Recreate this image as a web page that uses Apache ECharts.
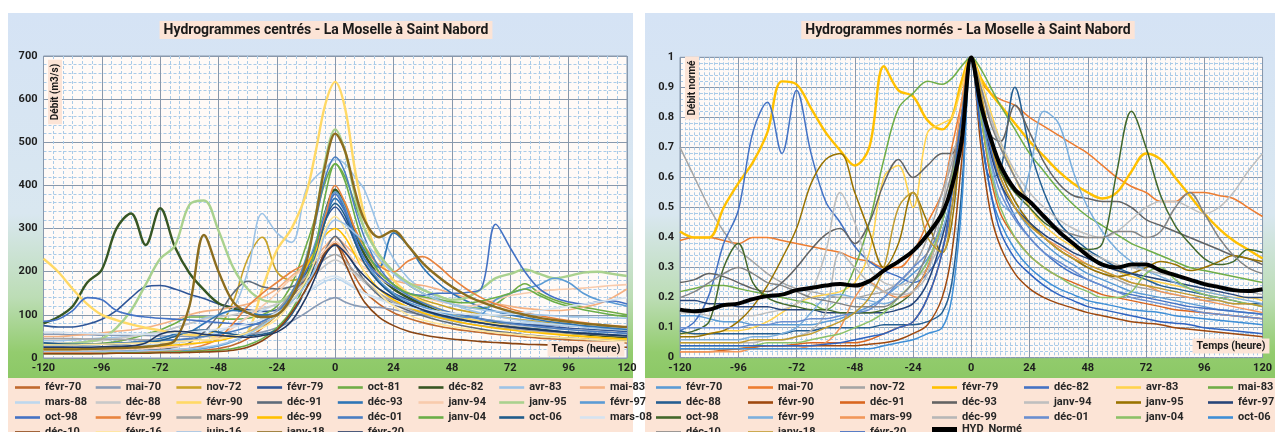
<!DOCTYPE html>
<html><head><meta charset="utf-8">
<script src="https://cdn.jsdelivr.net/npm/echarts@6/dist/echarts.min.js"></script>
<style>html,body{margin:0;padding:0;background:#fff}#c{width:1275px;height:432px}</style>
</head><body><div id="c"></div>
<script>
// ---------- DATA ----------
const hours = [-120,-114,-108,-102,-96,-90,-84,-78,-72,-66,-60,-54,-48,-42,-36,-30,-24,-18,-12,-8,-4,0,4,8,12,18,24,30,36,42,48,54,60,66,72,78,84,90,96,102,108,114,120];

const leftNames = ['févr-70','mai-70','nov-72','févr-79','oct-81','déc-82','avr-83','mai-83','mars-88','déc-88','févr-90','déc-91','déc-93','janv-94','janv-95','févr-97','oct-98','févr-99','mars-99','déc-99','déc-01','janv-04','oct-06','mars-08','déc-10','févr-16','juin-16','janv-18','févr-20'];
const leftColors = ['#C0692E','#8A9BB5','#C9A227','#2F5597','#70AD47','#375623','#9DC3E6','#F4B183','#BDD7EE','#C9C9C9','#FFD966','#5E6B7A','#2E75B6','#F8CBAD','#A9D18E','#5B9BD5','#4472C4','#E8843F','#A5A5A5','#FFC000','#4A7EC2','#6AAE48','#1F5C8B','#D5E3F0','#8B4513','#FFE699','#9DC3E6','#8C6D1F','#203864'];

const L01 = [14,14,14,14,14,14,14,15,15,15,16,18,22,30,45,70,100,140,185, 220,250,265,235,190,155, 125,105,92,82,74,68,63,59,55,52,49,46,44,42,40,38,36,35];
const L02 = [55,55,54,54,53,53,52,52,51,51,50,50,50,52,55,60,70,85,105, 120,133,140,130,122,118, 117,112,106,100,95,90,86,84,82,80,78,77,76,75,74,73,72,70];
const L03 = [20,20,20,21,22,23,25,28,30,35,40,50,70,130,230,280,200,180,195, 240,320,385,360,300,250, 200,170,150,135,125,115,108,102,97,92,88,84,80,77,74,71,68,65];
const L04 = [75,72,72,78,90,110,140,165,168,160,148,138,125,118,112,108,112,140,200, 260,320,350,320,270,220, 175,150,135,122,112,104,97,91,86,82,78,75,72,69,67,65,63,61];
const L05 = [30,30,31,32,34,38,45,55,65,80,95,95,92,90,92,100,120,170,260, 330,410,450,420,360,300, 240,200,170,150,135,125,118,115,125,150,172,150,135,125,118,112,106,100];
const L06 = [80,95,120,175,205,300,335,262,347,258,197,158,127,115,105,95,100,150,200, 260,340,390,350,290,240, 190,160,140,125,112,100,92,85,80,75,70,66,62,58,55,52,50,48];
const L07 = [40,40,42,44,46,48,50,55,60,70,80,92,100,115,200,335,290,268,390, 420,440,460,450,420,390, 300,230,185,160,140,125,113,104,97,91,86,82,78,75,72,69,67,65];
const L08 = [50,50,52,55,58,62,65,70,78,88,100,108,112,118,125,140,160,190,215, 235,260,280,262,240,220, 195,180,172,168,160,150,140,132,126,120,115,112,110,112,118,125,140,160];
const L09 = [25,25,25,26,26,27,28,30,32,35,40,50,60,75,95,110,125,140,150, 165,178,185,175,162,150, 138,128,118,110,104,98,93,89,86,84,82,80,78,76,74,72,70,68];
const L10 = [35,35,36,38,40,45,50,55,60,70,80,90,95,100,108,115,125,150,175, 195,215,227,215,195,175, 150,132,118,108,100,93,88,83,79,76,73,70,68,66,64,62,60,58];
const L11 = [230,200,160,125,100,88,78,70,64,58,54,52,50,50,60,160,250,300,380, 480,590,640,580,440,330, 230,180,150,130,115,102,92,84,77,71,66,61,57,53,50,47,44,42];
const L12 = [15,15,15,15,16,16,17,18,20,25,35,60,100,150,178,165,160,165,180, 200,250,282,255,215,180, 145,125,110,98,88,80,73,67,62,58,54,51,48,46,44,42,40,38];
const L13 = [30,30,30,31,32,34,36,40,45,55,60,80,100,110,105,100,105,130,180, 240,320,370,340,290,250, 210,290,260,210,175,150,132,118,108,100,94,88,83,79,75,72,69,66];
const L14 = [18,18,18,19,19,20,21,22,24,26,30,38,50,70,95,120,150,185,210, 225,250,270,250,225,210, 185,165,150,140,132,125,120,125,135,145,150,155,158,160,162,165,168,170];
const L15 = [30,32,34,38,45,70,110,170,230,260,355,365,295,210,160,135,130,150,230, 330,460,530,480,380,300, 240,200,175,158,145,135,140,160,185,195,205,195,185,190,198,200,195,190];
const L16 = [12,12,12,12,12,13,13,14,15,16,18,22,28,38,55,80,110,150,210, 270,340,385,350,280,230, 180,150,130,118,108,100,94,100,135,150,160,170,185,175,150,135,128,120];
const L17 = [85,90,110,140,135,110,100,95,92,90,88,85,82,80,78,80,100,140,200, 260,330,380,340,280,230, 190,165,150,145,150,150,152,160,310,255,200,160,140,130,125,130,132,125];
const L18 = [12,12,12,12,12,13,13,14,15,18,22,30,45,80,120,150,175,200,220, 250,330,400,360,300,260, 215,200,225,235,215,185,160,140,125,114,105,98,92,87,82,78,75,72];
const L19 = [45,45,45,44,44,43,43,42,42,42,42,42,45,50,60,80,110,150,190, 210,230,240,225,200,180, 150,130,115,103,94,86,80,75,71,68,65,62,60,58,56,54,52,50];
const L20 = [20,20,20,21,22,23,24,26,28,30,33,36,40,48,58,75,100,150,210, 250,285,300,280,240,200, 160,135,118,105,95,87,80,74,69,65,61,58,55,52,50,48,46,44];
const L21 = [28,28,29,30,32,34,36,38,40,42,45,50,55,62,72,85,105,150,230, 320,420,466,430,350,280, 210,170,145,128,115,105,97,90,85,80,76,72,69,66,63,61,59,57];
const L22 = [10,10,10,10,11,11,12,12,13,14,15,16,18,22,30,45,70,110,180, 260,380,450,410,330,260, 200,170,150,142,136,130,128,132,140,150,160,145,130,120,112,106,100,96];
const L23 = [35,33,32,32,32,33,34,36,40,50,62,65,60,55,52,55,65,100,160, 230,320,358,330,270,220, 175,145,125,110,100,92,86,81,76,72,69,66,63,60,58,56,54,52];
const L24 = [60,60,58,57,56,55,55,55,56,58,60,63,67,72,80,90,105,125,150, 170,185,190,180,165,150, 135,125,118,112,108,104,102,100,100,102,105,110,115,120,125,130,135,140];
const L25 = [10,10,10,10,10,11,11,11,12,12,13,14,15,18,25,40,65,105,160, 200,245,262,220,170,130, 95,75,62,54,48,44,41,38,36,34,32,31,30,29,28,27,26,25];
const L26 = [30,30,30,31,32,33,34,35,36,38,40,42,45,50,58,70,90,130,180, 230,300,328,300,250,200, 150,120,100,88,80,73,68,63,59,56,53,50,48,46,44,42,40,38];
const L27 = [15,15,15,15,15,16,16,17,18,20,22,25,30,40,55,75,100,130,170, 210,290,320,310,290,270, 230,195,170,150,135,125,118,112,108,105,102,100,98,96,95,94,93,92];
const L28 = [20,20,20,21,22,23,24,26,30,40,120,285,200,130,105,95,100,140,220, 330,450,520,480,390,320, 280,295,260,220,190,165,145,130,118,108,100,93,88,84,80,77,74,72];
const L29 = [25,25,25,25,26,27,28,35,55,62,60,55,52,50,48,52,60,85,140, 190,240,262,245,215,190, 160,140,125,112,102,94,87,81,76,72,68,65,62,59,57,55,53,51];
const leftData = [L01,L02,L03,L04,L05,L06,L07,L08,L09,L10,L11,L12,L13,L14,L15,L16,L17,L18,L19,L20,L21,L22,L23,L24,L25,L26,L27,L28,L29];
const leftThick = ['déc-82','févr-90','janv-18','janv-95'];

const rightNames = ['févr-70','mai-70','nov-72','févr-79','déc-82','avr-83','mai-83','déc-88','févr-90','déc-91','déc-93','janv-94','janv-95','févr-97','oct-98','févr-99','mars-99','déc-99','déc-01','janv-04','oct-06','déc-10','janv-18','févr-20','HYD_Normé'];
const rightColors = ['#5B9BD5','#ED7D31','#A5A5A5','#FFC000','#4472C4','#FFD34D','#70AD47','#255E91','#9E480E','#D9661F','#636363','#BFBFBF','#997300','#264478','#43682B','#7CAFDD','#F1975A','#B7B7B7','#698ED0','#8CC168','#3E8ED6','#848484','#BF9B30','#2F63C0','#000000'];

const R01 = [0.14,0.14,0.13,0.12,0.12,0.11,0.11,0.11,0.11,0.11,0.12,0.13,0.15,0.17,0.2,0.24,0.28,0.33,0.42, 0.55,0.75,1,0.85,0.7,0.6, 0.5,0.43,0.38,0.34,0.31,0.28,0.26,0.24,0.22,0.21,0.2,0.19,0.18,0.17,0.16,0.155,0.15,0.145];
const R02 = [0.39,0.40,0.40,0.39,0.38,0.40,0.40,0.39,0.38,0.37,0.36,0.35,0.33,0.32,0.30,0.30,0.35,0.45,0.55, 0.7,0.85,1,0.92,0.88,0.86, 0.84,0.80,0.77,0.74,0.71,0.68,0.64,0.60,0.57,0.55,0.52,0.52,0.55,0.55,0.54,0.53,0.50,0.47];
const R03 = [0.70,0.60,0.50,0.42,0.36,0.32,0.28,0.25,0.23,0.22,0.21,0.20,0.20,0.21,0.22,0.25,0.30,0.40,0.55, 0.65,0.8,1,0.85,0.72,0.62, 0.52,0.45,0.40,0.36,0.33,0.30,0.28,0.26,0.24,0.23,0.22,0.21,0.2,0.19,0.19,0.18,0.18,0.17];
const R04 = [0.42,0.40,0.40,0.50,0.58,0.65,0.75,0.92,0.91,0.83,0.75,0.69,0.64,0.70,0.97,0.89,0.87,0.79,0.76, 0.80,0.92,1,0.93,0.88,0.84, 0.78,0.72,0.67,0.62,0.58,0.55,0.53,0.55,0.62,0.68,0.66,0.60,0.54,0.48,0.43,0.39,0.36,0.33];
const R05 = [0.09,0.12,0.21,0.38,0.49,0.75,0.85,0.68,0.89,0.68,0.52,0.45,0.37,0.32,0.29,0.27,0.25,0.28,0.36, 0.5,0.72,1,0.85,0.7,0.58, 0.47,0.40,0.35,0.31,0.28,0.26,0.24,0.22,0.21,0.20,0.19,0.18,0.17,0.165,0.16,0.155,0.15,0.145];
const R06 = [0.08,0.08,0.08,0.09,0.09,0.1,0.12,0.15,0.18,0.2,0.21,0.22,0.25,0.35,0.6,0.64,0.5,0.75,0.78, 0.8,0.9,1,0.92,0.82,0.72, 0.6,0.5,0.44,0.4,0.37,0.34,0.31,0.29,0.27,0.26,0.25,0.24,0.23,0.22,0.21,0.2,0.2,0.19];
const R07 = [0.22,0.23,0.24,0.24,0.23,0.22,0.21,0.2,0.19,0.18,0.16,0.2,0.3,0.45,0.66,0.83,0.88,0.92,0.91, 0.93,0.97,1,0.96,0.9,0.84, 0.76,0.68,0.62,0.56,0.51,0.47,0.44,0.41,0.38,0.36,0.34,0.32,0.3,0.29,0.28,0.27,0.26,0.25];
const R08 = [0.09,0.08,0.08,0.08,0.08,0.08,0.08,0.08,0.09,0.09,0.1,0.1,0.1,0.1,0.11,0.11,0.11,0.12,0.15, 0.25,0.55,1,0.75,0.6,0.62, 0.9,0.7,0.55,0.45,0.4,0.36,0.33,0.3,0.28,0.26,0.24,0.23,0.22,0.21,0.2,0.19,0.18,0.18];
const R09 = [0.03,0.03,0.03,0.03,0.03,0.035,0.04,0.04,0.04,0.04,0.04,0.04,0.04,0.045,0.05,0.06,0.08,0.11,0.2, 0.35,0.65,1,0.7,0.48,0.37, 0.28,0.23,0.2,0.18,0.165,0.15,0.14,0.13,0.12,0.115,0.11,0.1,0.095,0.09,0.085,0.08,0.075,0.07];
const R10 = [0.02,0.02,0.02,0.025,0.03,0.035,0.04,0.04,0.045,0.05,0.05,0.05,0.05,0.06,0.08,0.1,0.12,0.2,0.35, 0.55,0.8,1,0.8,0.6,0.48, 0.4,0.34,0.3,0.27,0.25,0.23,0.21,0.2,0.19,0.18,0.17,0.16,0.155,0.15,0.145,0.14,0.135,0.13];
const R11 = [0.25,0.26,0.28,0.27,0.25,0.23,0.22,0.25,0.30,0.36,0.41,0.43,0.38,0.45,0.58,0.66,0.6,0.64,0.68, 0.68,0.8,1,0.85,0.74,0.72, 0.84,0.75,0.65,0.58,0.54,0.53,0.52,0.52,0.50,0.46,0.44,0.42,0.4,0.38,0.36,0.34,0.33,0.31];
const R12 = [0.15,0.15,0.14,0.14,0.14,0.14,0.15,0.16,0.18,0.22,0.35,0.55,0.45,0.3,0.25,0.24,0.26,0.3,0.4, 0.55,0.8,1,0.9,0.8,0.72, 0.62,0.55,0.50,0.46,0.43,0.41,0.40,0.42,0.46,0.50,0.52,0.52,0.50,0.48,0.50,0.55,0.62,0.68];
const R13 = [0.07,0.07,0.08,0.09,0.12,0.17,0.24,0.33,0.43,0.58,0.66,0.68,0.55,0.42,0.3,0.38,0.55,0.45,0.35, 0.45,0.75,1,0.85,0.72,0.62, 0.52,0.45,0.4,0.36,0.33,0.3,0.28,0.27,0.28,0.3,0.32,0.31,0.29,0.3,0.32,0.34,0.33,0.32];
const R14 = [0.19,0.19,0.18,0.18,0.17,0.17,0.17,0.16,0.16,0.16,0.15,0.15,0.15,0.15,0.15,0.16,0.18,0.25,0.4, 0.55,0.78,1,0.82,0.68,0.58, 0.5,0.45,0.41,0.38,0.35,0.33,0.31,0.29,0.28,0.27,0.26,0.25,0.24,0.23,0.22,0.21,0.2,0.2];
const R15 = [0.08,0.09,0.12,0.3,0.38,0.25,0.2,0.18,0.17,0.16,0.16,0.15,0.15,0.15,0.16,0.18,0.22,0.3,0.45, 0.6,0.8,1,0.85,0.72,0.62, 0.55,0.5,0.45,0.42,0.38,0.36,0.38,0.62,0.82,0.7,0.54,0.44,0.38,0.33,0.31,0.32,0.36,0.35];
const R16 = [0.06,0.06,0.06,0.06,0.06,0.07,0.07,0.08,0.1,0.15,0.2,0.21,0.2,0.19,0.18,0.2,0.25,0.32,0.42, 0.55,0.75,1,0.82,0.65,0.52, 0.48,0.62,0.82,0.78,0.62,0.5,0.42,0.36,0.32,0.29,0.27,0.25,0.23,0.22,0.21,0.2,0.19,0.18];
const R17 = [0.02,0.02,0.02,0.02,0.02,0.03,0.03,0.03,0.03,0.04,0.05,0.1,0.2,0.25,0.22,0.2,0.22,0.3,0.45, 0.6,0.85,1,0.88,0.72,0.6, 0.5,0.44,0.4,0.37,0.34,0.31,0.29,0.27,0.25,0.24,0.22,0.21,0.2,0.19,0.18,0.17,0.16,0.15];
const R18 = [0.05,0.05,0.05,0.05,0.05,0.05,0.06,0.06,0.07,0.09,0.15,0.35,0.3,0.25,0.22,0.21,0.22,0.28,0.5, 0.68,0.75,1,0.9,0.8,0.7, 0.6,0.52,0.46,0.42,0.38,0.35,0.33,0.31,0.3,0.29,0.28,0.27,0.26,0.25,0.24,0.23,0.22,0.21];
const R19 = [0.1,0.1,0.1,0.1,0.1,0.11,0.11,0.12,0.12,0.13,0.13,0.14,0.15,0.16,0.2,0.25,0.3,0.35,0.45, 0.6,0.8,1,0.82,0.66,0.55, 0.46,0.4,0.35,0.32,0.29,0.26,0.24,0.22,0.2,0.19,0.18,0.17,0.16,0.15,0.145,0.14,0.135,0.13];
const R20 = [0.04,0.04,0.04,0.04,0.04,0.04,0.05,0.05,0.05,0.06,0.07,0.08,0.1,0.12,0.15,0.2,0.25,0.32,0.45, 0.6,0.8,1,0.8,0.62,0.5, 0.4,0.34,0.3,0.27,0.24,0.22,0.2,0.2,0.22,0.28,0.3,0.26,0.23,0.21,0.2,0.19,0.18,0.17];
const R21 = [0.03,0.03,0.03,0.03,0.03,0.03,0.03,0.03,0.03,0.03,0.03,0.03,0.03,0.03,0.04,0.05,0.06,0.08,0.1, 0.2,0.5,1,0.75,0.55,0.45, 0.36,0.3,0.26,0.23,0.21,0.19,0.18,0.17,0.16,0.155,0.15,0.14,0.135,0.13,0.125,0.12,0.115,0.11];
const R22 = [0.2,0.22,0.25,0.28,0.3,0.28,0.25,0.24,0.22,0.2,0.19,0.18,0.17,0.17,0.17,0.2,0.25,0.35,0.5, 0.62,0.8,1,0.9,0.78,0.7, 0.6,0.52,0.47,0.43,0.41,0.4,0.4,0.42,0.42,0.4,0.42,0.5,0.55,0.48,0.4,0.34,0.3,0.28];
const R23 = [0.05,0.05,0.05,0.05,0.05,0.06,0.06,0.06,0.07,0.08,0.1,0.12,0.15,0.2,0.3,0.5,0.55,0.4,0.35, 0.5,0.8,1,0.88,0.72,0.6, 0.5,0.44,0.4,0.36,0.33,0.31,0.29,0.27,0.25,0.24,0.23,0.22,0.21,0.2,0.19,0.18,0.18,0.17];
const R24 = [0.04,0.04,0.04,0.04,0.04,0.04,0.04,0.04,0.04,0.04,0.045,0.05,0.06,0.07,0.08,0.1,0.12,0.2,0.35, 0.55,0.8,1,0.75,0.55,0.42, 0.33,0.28,0.24,0.21,0.19,0.17,0.16,0.15,0.14,0.13,0.12,0.115,0.11,0.1,0.095,0.09,0.085,0.08];
const HYD = [0.16,0.155,0.16,0.175,0.18,0.195,0.205,0.21,0.225,0.232,0.24,0.245,0.24,0.255,0.29,0.32,0.355,0.41,0.48, 0.57,0.72,1,0.84,0.73,0.64, 0.56,0.52,0.47,0.42,0.38,0.34,0.31,0.30,0.31,0.31,0.29,0.275,0.26,0.245,0.235,0.225,0.222,0.228];
const rightData = [R01,R02,R03,R04,R05,R06,R07,R08,R09,R10,R11,R12,R13,R14,R15,R16,R17,R18,R19,R20,R21,R22,R23,R24,HYD];

// ---------- CHART ----------
const FONT = 'Roboto, "Liberation Sans", sans-serif';
const chart = echarts.init(document.getElementById('c'), null, {renderer: 'canvas'});
// internal keys keep the two panels' series (same event names) distinct
const leftKeys = leftNames.map(n => 'C|' + n);
const rightKeys = rightNames.map(n => 'N|' + n);
const HYD_KEY = 'N|HYD_Normé';

function panelBg(x, w) {
  return [
    {type: 'rect', z: -10, silent: true, shape: {x: x, y: 13, width: w, height: 365},
     style: {fill: new echarts.graphic.LinearGradient(0, 0, 0, 1, [
       {offset: 0, color: '#D5E3F5'}, {offset: 0.55, color: '#D9E7F0'},
       {offset: 0.78, color: '#BCDDB5'}, {offset: 0.93, color: '#93CC6E'}, {offset: 1, color: '#8CC866'}])}},
    {type: 'rect', z: -10, silent: true, shape: {x: x, y: 378, width: w, height: 54}, style: {fill: '#FCE4D6'}}
  ];
}
function boxText(txt, x, y, size, rot) {
  return {type: 'text', z: 100, silent: true, x: x, y: y, rotation: rot || 0,
    style: {text: txt, fill: '#1A1A1A', font: 'bold ' + size + 'px ' + FONT, align: 'center', verticalAlign: 'middle',
      backgroundColor: '#FCE4D6', padding: [2, 4]}};
}

function xAxisCfg(gi, minorSplit) {
  return {type: 'value', gridIndex: gi, min: -120, max: 120, interval: 24,
    axisLine: {show: false}, axisTick: {show: false},
    axisLabel: {color: '#1E1E1E', fontWeight: 'bold', fontSize: 11, fontFamily: FONT, margin: 5},
    splitLine: {show: true, lineStyle: {color: '#8898AC', width: 1}},
    minorTick: {show: false, splitNumber: minorSplit},
    minorSplitLine: {show: true, lineStyle: {color: '#A9CBE8', width: 1, type: [3, 2]}}};
}
function yAxisCfg(gi, max, interval) {
  return {type: 'value', gridIndex: gi, min: 0, max: max, interval: interval,
    axisLine: {show: false}, axisTick: {show: false},
    axisLabel: {color: '#1E1E1E', fontWeight: 'bold', fontSize: 11, fontFamily: FONT, margin: 6},
    splitLine: {show: true, lineStyle: {color: '#8898AC', width: 1}},
    minorTick: {show: false, splitNumber: 5},
    minorSplitLine: {show: true, lineStyle: {color: '#A9CBE8', width: 1, type: [3, 2]}}};
}

const series = [];
leftNames.forEach((n, i) => {
  series.push({type: 'line', name: leftKeys[i], xAxisIndex: 0, yAxisIndex: 0, smooth: 0.35, symbol: 'none',
    data: hours.map((h, k) => [h, leftData[i][k]]),
    lineStyle: {color: leftColors[i], width: leftThick.includes(n) ? 2.4 : 1.6},
    itemStyle: {color: leftColors[i]}, emphasis: {disabled: true}});
});
rightNames.forEach((n, i) => {
  const isH = rightKeys[i] === HYD_KEY;
  series.push({type: 'line', name: rightKeys[i], xAxisIndex: 1, yAxisIndex: 1, smooth: 0.35, symbol: 'none',
    data: hours.map((h, k) => [h, rightData[i][k]]), z: isH ? 5 : 2,
    lineStyle: {color: rightColors[i], width: isH ? 4 : (n === 'févr-79' ? 2.4 : 1.5)},
    itemStyle: {color: rightColors[i]}, emphasis: {disabled: true}});
});

// one vertical legend per column (grid-like layout)
const LEG_TOP = 382, ROW = 14;
const legendText = {fontSize: 11, fontWeight: 'bold', color: '#262626', fontFamily: FONT, lineHeight: 10};
function legendBox(data, left, top, iconH) {
  return {data: data, orient: 'vertical', left: left, top: top, width: 95, height: 120, padding: 0,
    icon: 'rect', itemWidth: 25, itemHeight: iconH, itemGap: ROW - 10, textStyle: legendText,
    formatter: name => name.slice(2)};
}
function columnLegends(keys, ncol, x0, colW) {
  const out = [];
  for (let c = 0; c < ncol; c++) {
    const d = [];
    for (let k = c; k < keys.length; k += ncol) {
      if (keys[k] === HYD_KEY) {
        out.push(legendBox([keys[k]], x0 + c * colW, LEG_TOP + Math.floor(k / ncol) * ROW, 5));
      } else {
        d.push(keys[k]);
      }
    }
    out.push(legendBox(d, x0 + c * colW, LEG_TOP, 2.6));
  }
  return out;
}

chart.setOption({
  animation: false,
  backgroundColor: '#ffffff',
  graphic: [].concat(panelBg(8, 625), panelBg(645, 630), [
    boxText('Hydrogrammes centrés - La Moselle à Saint Nabord', 326, 30, 14),
    boxText('Hydrogrammes normés - La Moselle à Saint Nabord', 968, 30, 14),
    boxText('Débit (m3/s)', 55, 92, 10, Math.PI / 2),
    boxText('Temps (heure)', 586, 349, 10.5),
    boxText('Débit normé', 692, 88, 10, Math.PI / 2),
    boxText('Temps (heure)', 1231, 346, 10.5)
  ]),
  grid: [
    {left: 43.5, top: 56, width: 583.5, height: 302, show: true, backgroundColor: '#FFFAF7', borderColor: '#8898AC', borderWidth: 1},
    {left: 680, top: 57.3, width: 592, height: 300.4, show: true, backgroundColor: '#FFFAF7', borderColor: '#8898AC', borderWidth: 1}
  ],
  xAxis: [xAxisCfg(0, 6), xAxisCfg(1, 12)],
  yAxis: [yAxisCfg(0, 700, 100), yAxisCfg(1, 1, 0.1)],
  legend: [].concat(columnLegends(leftKeys, 8, 15, 80.7), columnLegends(rightKeys, 7, 656, 92)),
  series: series
});
</script></body></html>
